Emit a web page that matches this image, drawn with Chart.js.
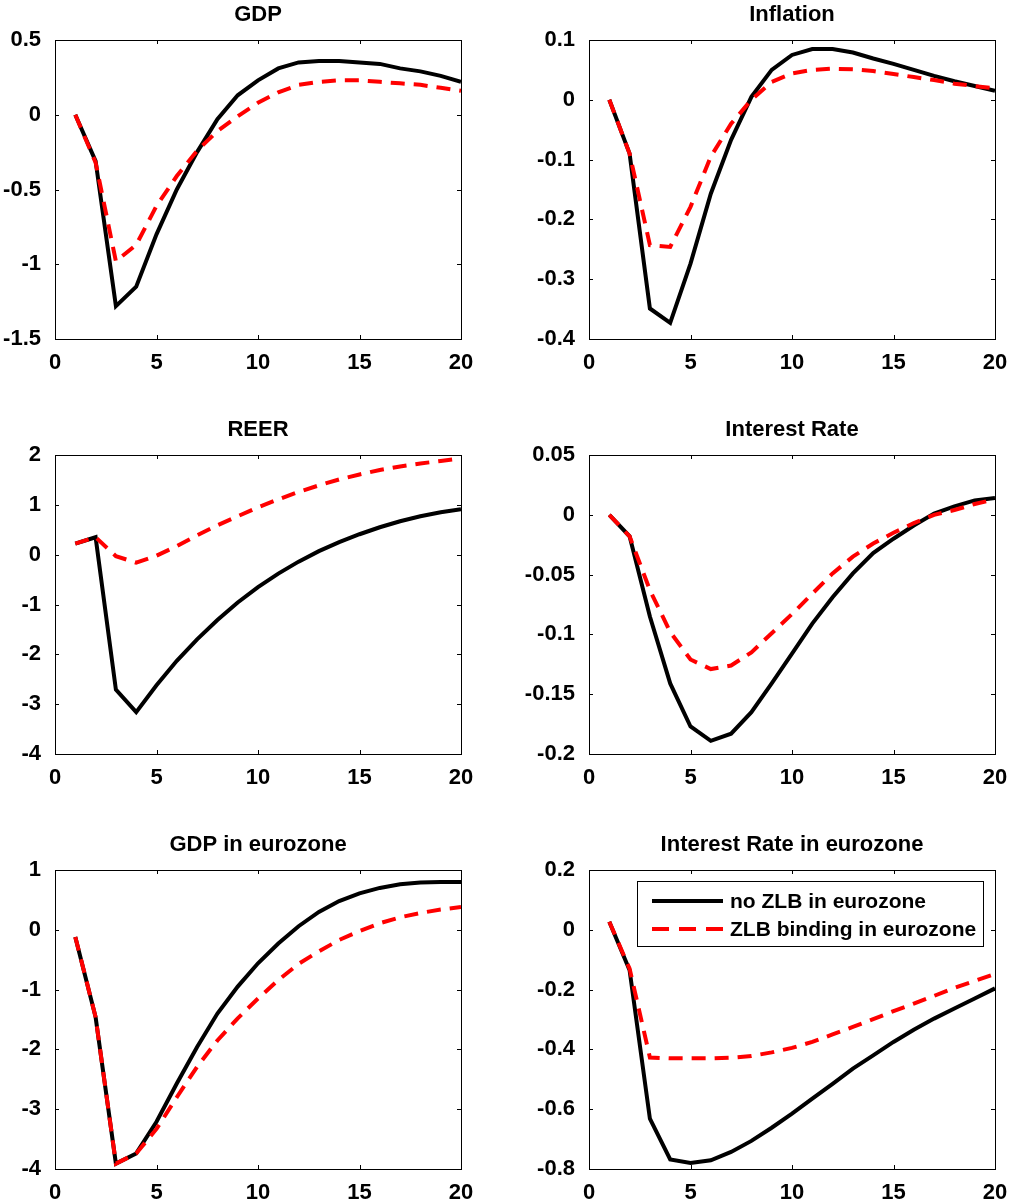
<!DOCTYPE html>
<html>
<head>
<meta charset="utf-8">
<script src="https://cdn.jsdelivr.net/npm/chart.js@4.4.1/dist/chart.umd.min.js"></script>
<style>
  body { margin: 0; background: #fff; width: 1011px; height: 1203px; overflow: hidden; position: relative; }
  canvas { position: absolute; }
</style>
</head>
<body>
<canvas id="panel0" width="480" height="373" style="left:0px;top:0px"></canvas>
<canvas id="panel1" width="492" height="373" style="left:519px;top:0px"></canvas>
<canvas id="panel2" width="480" height="373" style="left:0px;top:415px"></canvas>
<canvas id="panel3" width="492" height="373" style="left:519px;top:415px"></canvas>
<canvas id="panel4" width="480" height="373" style="left:0px;top:830px"></canvas>
<canvas id="panel5" width="492" height="373" style="left:519px;top:830px"></canvas>
<script>
const periods = [1, 2, 3, 4, 5, 6, 7, 8, 9, 10, 11, 12, 13, 14, 15, 16, 17, 18, 19, 20];
const xTicks = [0, 5, 10, 15, 20];

const titles = ['GDP', 'Inflation', 'REER', 'Interest Rate', 'GDP in eurozone', 'Interest Rate in eurozone'];
const seriesLabels = ['no ZLB in eurozone', 'ZLB binding in eurozone'];

const gdpNoZlb = [0, -0.31, -1.28, -1.15, -0.80, -0.50, -0.25, -0.03, 0.13, 0.23, 0.31, 0.35, 0.36, 0.36, 0.35, 0.34, 0.31, 0.29, 0.26, 0.22];
const gdpZlb = [0, -0.32, -0.98, -0.87, -0.61, -0.41, -0.24, -0.11, -0.01, 0.08, 0.15, 0.20, 0.22, 0.23, 0.23, 0.22, 0.21, 0.20, 0.18, 0.16];
const gdpTicks = [-1.5, -1, -0.5, 0, 0.5];

const inflNoZlb = [0, -0.09, -0.349, -0.373, -0.274, -0.157, -0.067, 0.005, 0.05, 0.075, 0.085, 0.085, 0.079, 0.069, 0.06, 0.05, 0.04, 0.031, 0.023, 0.015];
const inflZlb = [0, -0.09, -0.243, -0.246, -0.179, -0.095, -0.04, 0, 0.03, 0.044, 0.05, 0.052, 0.051, 0.048, 0.043, 0.038, 0.033, 0.027, 0.023, 0.019];
const inflTicks = [-0.4, -0.3, -0.2, -0.1, 0, 0.1];

const reerNoZlb = [0.22, 0.35, -2.71, -3.16, -2.62, -2.13, -1.70, -1.31, -0.96, -0.65, -0.38, -0.14, 0.07, 0.25, 0.41, 0.55, 0.67, 0.77, 0.85, 0.91];
const reerZlb = [0.22, 0.35, -0.03, -0.16, -0.02, 0.17, 0.39, 0.59, 0.77, 0.95, 1.11, 1.26, 1.39, 1.51, 1.61, 1.70, 1.77, 1.83, 1.88, 1.93];
const reerTicks = [-4, -3, -2, -1, 0, 1, 2];

const rateNoZlb = [0, -0.018, -0.085, -0.141, -0.177, -0.189, -0.183, -0.165, -0.141, -0.116, -0.091, -0.069, -0.049, -0.032, -0.020, -0.009, 0.001, 0.007, 0.012, 0.014];
const rateZlb = [0, -0.018, -0.063, -0.098, -0.121, -0.129, -0.126, -0.115, -0.099, -0.083, -0.066, -0.049, -0.035, -0.024, -0.015, -0.007, 0, 0.004, 0.009, 0.013];
const rateTicks = [-0.2, -0.15, -0.1, -0.05, 0, 0.05];

const euGdpNoZlb = [-0.12, -1.46, -3.91, -3.74, -3.21, -2.57, -1.96, -1.40, -0.95, -0.56, -0.23, 0.06, 0.30, 0.48, 0.61, 0.70, 0.76, 0.79, 0.80, 0.80];
const euGdpZlb = [-0.12, -1.46, -3.91, -3.74, -3.33, -2.80, -2.29, -1.85, -1.48, -1.15, -0.84, -0.57, -0.36, -0.17, -0.02, 0.11, 0.21, 0.28, 0.34, 0.38];
const euGdpTicks = [-4, -3, -2, -1, 0, 1];

const euRateNoZlb = [0.027, -0.135, -0.632, -0.768, -0.78, -0.771, -0.743, -0.706, -0.662, -0.615, -0.565, -0.515, -0.464, -0.42, -0.375, -0.334, -0.297, -0.263, -0.23, -0.196];
const euRateZlb = [0.027, -0.13, -0.427, -0.43, -0.43, -0.43, -0.428, -0.422, -0.41, -0.395, -0.375, -0.35, -0.325, -0.299, -0.272, -0.247, -0.221, -0.194, -0.171, -0.148];
const euRateTicks = [-0.8, -0.6, -0.4, -0.2, 0, 0.2];

const panelSeries = [
  [gdpNoZlb, gdpZlb, gdpTicks],
  [inflNoZlb, inflZlb, inflTicks],
  [reerNoZlb, reerZlb, reerTicks],
  [rateNoZlb, rateZlb, rateTicks],
  [euGdpNoZlb, euGdpZlb, euGdpTicks],
  [euRateNoZlb, euRateZlb, euRateTicks]
];

const fontFamily = '"Liberation Sans", Arial, Helvetica, sans-serif';
const dashPattern = [14, 9];
Chart.defaults.font.family = fontFamily;
Chart.defaults.color = '#000';

// matlab style box with ticks pointing inwards on all four sides
const boxPlugin = {
  id: 'box',
  afterDraw(chart) {
    const ctx = chart.ctx;
    const a = chart.chartArea;
    const len = 4;
    ctx.save();
    ctx.strokeStyle = '#000';
    ctx.lineWidth = 1;
    ctx.beginPath();
    chart.scales.x.ticks.forEach(function(t) {
      const px = Math.round(chart.scales.x.getPixelForValue(t.value)) + 0.5;
      ctx.moveTo(px, a.bottom); ctx.lineTo(px, a.bottom - len);
      ctx.moveTo(px, a.top); ctx.lineTo(px, a.top + len);
    });
    chart.scales.y.ticks.forEach(function(t) {
      const py = Math.round(chart.scales.y.getPixelForValue(t.value)) + 0.5;
      ctx.moveTo(a.left, py); ctx.lineTo(a.left + len, py);
      ctx.moveTo(a.right, py); ctx.lineTo(a.right - len, py);
    });
    ctx.stroke();
    ctx.strokeRect(Math.round(a.left) + 0.5, Math.round(a.top) + 0.5, Math.round(a.right - a.left), Math.round(a.bottom - a.top));
    ctx.restore();
  }
};

// legend box inside the last panel
const legendPlugin = {
  id: 'insideLegend',
  afterDraw(chart) {
    if (chart.canvas.id !== 'panel5') return;
    const ctx = chart.ctx;
    const a = chart.chartArea;
    const bx = a.left + 48, by = a.top + 11, bw = 346, bh = 65;
    ctx.save();
    ctx.fillStyle = '#fff';
    ctx.fillRect(bx, by, bw, bh);
    ctx.strokeStyle = '#000';
    ctx.lineWidth = 1;
    ctx.strokeRect(bx + 0.5, by + 0.5, bw, bh);
    ctx.font = 'bold 21px ' + fontFamily;
    ctx.textBaseline = 'middle';
    ctx.fillStyle = '#000';
    const rows = [by + 20, by + 48];
    const colors = ['#000', '#ff0000'];
    seriesLabels.forEach(function(label, i) {
      ctx.beginPath();
      ctx.strokeStyle = colors[i];
      ctx.lineWidth = 4;
      ctx.setLineDash(i === 1 ? [17, 10] : []);
      ctx.moveTo(bx + 15, rows[i]);
      ctx.lineTo(bx + 86, rows[i]);
      ctx.stroke();
      ctx.setLineDash([]);
      ctx.fillText(label, bx + 93, rows[i] + 1);
    });
    ctx.restore();
  }
};

function graficarPanel(i) {
  const noZlb = panelSeries[i][0];
  const zlb = panelSeries[i][1];
  const yTicks = panelSeries[i][2];
  const ctx = document.getElementById('panel' + i);
  const leftCol = (i % 2 === 0);

  new Chart(ctx, {
    type: 'line',
    data: {
      datasets: [{
        label: seriesLabels[1],
        data: periods.map(function(p, k) { return { x: p, y: zlb[k] }; }),
        borderColor: '#ff0000',
        borderWidth: 4,
        borderDash: dashPattern,
        pointRadius: 0,
        tension: 0,
        order: 0
      }, {
        label: seriesLabels[0],
        data: periods.map(function(p, k) { return { x: p, y: noZlb[k] }; }),
        borderColor: '#000',
        borderWidth: 4,
        pointRadius: 0,
        tension: 0,
        order: 1
      }]
    },
    options: {
      responsive: false,
      animation: false,
      devicePixelRatio: 1,
      layout: { padding: { left: 0, right: leftCol ? 19 : 16, top: 0, bottom: 0 } },
      plugins: {
        legend: { display: false },
        tooltip: { enabled: false },
        title: {
          display: true,
          text: titles[i],
          fullSize: false,
          color: '#000',
          font: { size: 22, weight: 'bold', lineHeight: 1 },
          padding: { top: 4, bottom: 14 }
        }
      },
      scales: {
        x: {
          type: 'linear',
          min: xTicks[0],
          max: xTicks[xTicks.length - 1],
          grid: { display: false },
          border: { display: false },
          afterBuildTicks: function(s) { s.ticks = xTicks.map(function(v) { return { value: v }; }); },
          afterFit: function(s) { s.height = 34; },
          ticks: {
            padding: 3,
            maxRotation: 0,
            font: { size: 22, weight: 'bold' },
            callback: function(v) { return String(v); }
          }
        },
        y: {
          type: 'linear',
          min: yTicks[0],
          max: yTicks[yTicks.length - 1],
          grid: { display: false },
          border: { display: false },
          afterBuildTicks: function(s) { s.ticks = yTicks.map(function(v) { return { value: v }; }); },
          afterFit: function(s) { s.width = leftCol ? 55 : 70; },
          ticks: {
            padding: 6,
            font: { size: 22, weight: 'bold' },
            callback: function(v) { return String(v); }
          }
        }
      }
    },
    plugins: [boxPlugin, legendPlugin]
  });
}

for (let i = 0; i < 6; i++) {
  graficarPanel(i);
}
</script>
</body>
</html>
